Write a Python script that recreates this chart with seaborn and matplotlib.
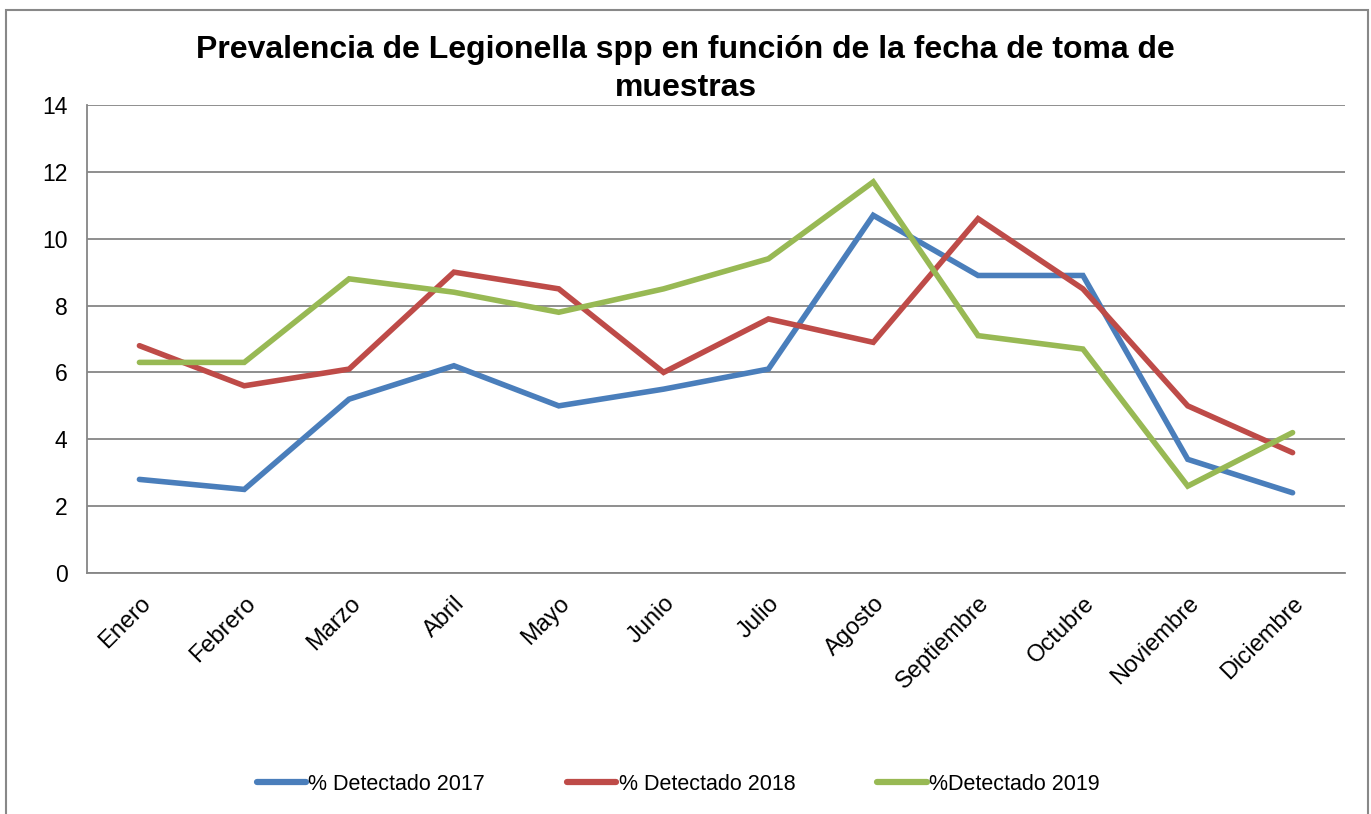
import numpy as np
import pandas as pd
import seaborn as sns
import matplotlib
matplotlib.use("Agg")
import matplotlib.pyplot as plt
from matplotlib.patches import Rectangle

months = ["Enero", "Febrero", "Marzo", "Abril", "Mayo", "Junio", "Julio",
          "Agosto", "Septiembre", "Octubre", "Noviembre", "Diciembre"]
det_2017 = [2.8, 2.5, 5.2, 6.2, 5.0, 5.5, 6.1, 10.7, 8.9, 8.9, 3.4, 2.4]
det_2018 = [6.8, 5.6, 6.1, 9.0, 8.5, 6.0, 7.6, 6.9, 10.6, 8.5, 5.0, 3.6]
det_2019 = [6.3, 6.3, 8.8, 8.4, 7.8, 8.5, 9.4, 11.7, 7.1, 6.7, 2.6, 4.2]
series_names = ["% Detectado 2017", "% Detectado 2018", "%Detectado 2019"]
colors = ["#4A7EBB", "#BE4B48", "#98B954"]
title = "Prevalencia de Legionella spp en función de la fecha de toma de\nmuestras"

df = pd.concat([
    pd.DataFrame({"Mes": months, "Valor": vals, "Serie": name})
    for name, vals in zip(series_names, [det_2017, det_2018, det_2019])
], ignore_index=True)
df["pos"] = df["Mes"].map({m: i for i, m in enumerate(months)})

sns.set_theme(style="white")
plt.rcParams["font.family"] = ["Liberation Sans", "DejaVu Sans"]
plt.rcParams["text.color"] = "black"
plt.rcParams["xtick.color"] = "black"
plt.rcParams["ytick.color"] = "black"

fig = plt.figure(figsize=(13.71, 8.14), dpi=100)
ax = fig.add_axes([87/1371, 1-573/814, (1345-87)/1371, (573-105)/814])

sns.lineplot(data=df, x="pos", y="Valor", hue="Serie", palette=colors,
             hue_order=series_names, linewidth=4.0, sort=False, ax=ax,
             legend=True)
for ln in ax.get_lines():
    ln.set_solid_capstyle("round")
    ln.set_solid_joinstyle("miter")

ax.set_xlim(-0.5, 11.5)
ax.set_ylim(0, 14)
ax.set_yticks(range(0, 15, 2))
ax.set_xticks(range(len(months)))
ax.set_xticklabels(months, rotation=45, ha="right", rotation_mode="anchor",
                   fontsize=17)
ax.tick_params(axis="y", labelsize=16.5, length=0, pad=14, labelcolor="black")
ax.tick_params(axis="x", length=0, pad=14, labelcolor="black")
ax.set_xlabel("")
ax.set_ylabel("")
ax.yaxis.grid(True, color="#868686", linewidth=1.3)
ax.set_axisbelow(True)
for s in ["top", "right"]:
    ax.spines[s].set_visible(False)
for s in ["left", "bottom"]:
    ax.spines[s].set_color("#868686")
    ax.spines[s].set_linewidth(1.3)

handles, labels = ax.get_legend_handles_labels()
ax.get_legend().remove()
for h in handles:
    h.set_linewidth(4.5)
fig.legend(handles, labels, loc="center", bbox_to_anchor=(678/1371, 1-784/814),
           ncol=3, frameon=False, fontsize=15.5, handlelength=2.3,
           handletextpad=0.1, columnspacing=3.8, labelcolor="black")

fig.text(0.5, 1-69/814, title, ha="center", va="center", fontsize=23,
         fontweight="bold", linespacing=1.35, color="black")

fig.add_artist(Rectangle((6/1371, -0.1), (1368-6)/1371, (1-10/814)+0.1,
                         transform=fig.transFigure, fill=False,
                         edgecolor="#888888", linewidth=1.5))

fig.savefig("out.png", dpi=100, facecolor="white")
